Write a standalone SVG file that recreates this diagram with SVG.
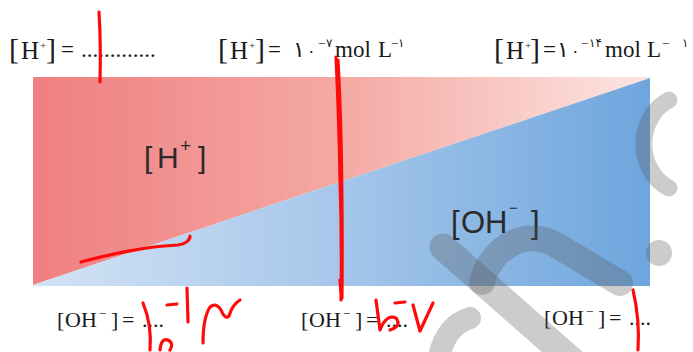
<svg xmlns="http://www.w3.org/2000/svg" width="693" height="352" viewBox="0 0 693 352">
<defs>
<linearGradient id="gRed" x1="33" y1="0" x2="650" y2="0" gradientUnits="userSpaceOnUse">
<stop offset="0" stop-color="#ef7f80"/>
<stop offset="0.5" stop-color="#f4a9a4"/>
<stop offset="1" stop-color="#fde6e2"/>
</linearGradient>
<linearGradient id="gBlue" x1="33" y1="0" x2="650" y2="0" gradientUnits="userSpaceOnUse">
<stop offset="0" stop-color="#d3e3f5"/>
<stop offset="0.5" stop-color="#a5c6ea"/>
<stop offset="1" stop-color="#6ea6dd"/>
</linearGradient>
<style>
.ser{font-family:"Liberation Serif","DejaVu Serif",serif;fill:#1a1a1a}
.fa{font-family:"DejaVu Sans","Noto Sans",sans-serif;fill:#1a1a1a}
.lab{font-family:"Liberation Sans",Arial,sans-serif;fill:#2a2a2a}
.ink{fill:none;stroke:#ff0a0a;stroke-width:3.2;stroke-linecap:round;stroke-linejoin:round}
.wm{fill:none;stroke:#555;stroke-opacity:0.3;stroke-linecap:round}
</style>
</defs>
<rect width="693" height="352" fill="#ffffff"/>

<g id="chart">
<polygon points="33,77 650,77 650,78 33,285" fill="url(#gRed)"/>
<polygon points="33,285 650,78 650,286 33,286" fill="url(#gBlue)"/>
</g>

<g id="label-h">
<text class="lab" font-size="30" y="168"><tspan x="144">[</tspan><tspan x="157">H</tspan><tspan x="180" y="152" font-size="19">+</tspan><tspan x="198" y="168">]</tspan></text>
</g>
<g id="label-oh">
<text class="lab" font-size="31" y="233"><tspan x="451">[</tspan><tspan x="461">OH</tspan><tspan x="509" y="213" font-size="15">−</tspan><tspan x="531" y="233">]</tspan></text>
</g>

<g id="top-texts">
<text class="ser" y="57"><tspan x="9" font-size="30" y="59">[</tspan><tspan x="21" font-size="25">H</tspan><tspan x="40" y="49" font-size="11">+</tspan><tspan x="46" font-size="30" y="59">]</tspan><tspan x="61" font-size="23" y="57">=</tspan><tspan x="81" font-size="23">.............</tspan></text>

<text class="ser" y="57"><tspan x="218" font-size="30" y="59">[</tspan><tspan x="230" font-size="25">H</tspan><tspan x="249" y="49" font-size="11">+</tspan><tspan x="255" font-size="30" y="59">]</tspan><tspan x="268" font-size="23" y="57">=</tspan></text>
<text class="fa" font-size="22" y="57" x="293">۱</text>
<text class="fa" font-size="16" y="57" x="307">۰</text>
<text class="ser" font-size="13" x="318" y="48">−</text>
<text class="fa" font-size="12" x="326" y="47">۷</text>
<text class="ser" font-size="23" y="57"><tspan x="335">mol</tspan><tspan x="378">L</tspan></text>
<text class="ser" font-size="13" x="391" y="48">−</text>
<text class="fa" font-size="12" x="398" y="47">۱</text>

<text class="ser" y="57"><tspan x="494" font-size="30" y="59">[</tspan><tspan x="506" font-size="25">H</tspan><tspan x="525" y="49" font-size="11">+</tspan><tspan x="530" font-size="30" y="59">]</tspan><tspan x="543" font-size="23" y="57">=</tspan></text>
<text class="fa" font-size="22" y="57" x="557">۱</text>
<text class="fa" font-size="16" y="57" x="571">۰</text>
<text class="ser" font-size="13" x="581" y="48">−</text>
<text class="fa" font-size="12" x="589" y="47">۱۴</text>
<text class="ser" font-size="23" y="57"><tspan x="605">mol</tspan><tspan x="647">L</tspan></text>
<text class="ser" font-size="13" x="662" y="48">−</text>
<text class="fa" font-size="12" x="682" y="47">۱</text>
</g>

<g id="bottom-texts">
<text class="ser" font-size="22" y="327"><tspan x="57">[</tspan><tspan x="65">OH</tspan><tspan x="99" y="318" font-size="13">−</tspan><tspan x="111" y="327">]</tspan><tspan x="122">=</tspan><tspan x="142">....</tspan></text>
<text class="ser" font-size="22" y="327"><tspan x="301">[</tspan><tspan x="309">OH</tspan><tspan x="343" y="318" font-size="13">−</tspan><tspan x="355" y="327">]</tspan><tspan x="366">=</tspan><tspan x="386">....</tspan></text>
<text class="ser" font-size="22" y="325"><tspan x="544">[</tspan><tspan x="552">OH</tspan><tspan x="586" y="316" font-size="13">−</tspan><tspan x="598" y="325">]</tspan><tspan x="609">=</tspan><tspan x="629">....</tspan></text>
</g>

<g id="watermark">
<path class="wm" stroke-width="17" d="M669,100 A42,48 0 0 0 669,188"/>
<circle cx="659" cy="253" r="13" fill="#555" fill-opacity="0.3"/>
<path class="wm" stroke-width="27" d="M443,247 L585,372"/>
<path class="wm" stroke-width="26" d="M482,282 C492,245 528,228 556,245 L620,283"/>
<path class="wm" stroke-width="22" d="M438,362 Q444,326 470,318"/>
</g>

<g id="ink">
<path class="ink" d="M99,12 Q101,45 100,82"/>
<path class="ink" stroke-width="4" d="M336,57 Q339,120 340,180 Q342,240 341,300"/>
<path class="ink" d="M338,60 Q343,150 342,298"/>
<path class="ink" d="M81,262 C110,254 150,246 178,245 C186,244 190,240 190,236"/>
<path class="ink" d="M143,303 Q152,325 150,350"/>
<path class="ink" d="M167,305 L177,304"/>
<path class="ink" d="M187,288 L188,322"/>
<path class="ink" d="M160,350 Q161,338 168,340 Q174,343 170,350"/>
<path class="ink" d="M203,343 Q203,318 210,307 Q216,302 221,310 Q225,320 229,316 Q232,305 240,300"/>
<path class="ink" d="M376,300 L380,330 Q386,314 396,318 Q402,326 390,330"/>
<path class="ink" d="M395,303 L405,302"/>
<path class="ink" d="M413,305 L420,331 L433,303"/>
<path class="ink" d="M340,280 L341,293"/>
<path class="ink" d="M633,290 Q640,320 638,350"/>
</g>
</svg>
